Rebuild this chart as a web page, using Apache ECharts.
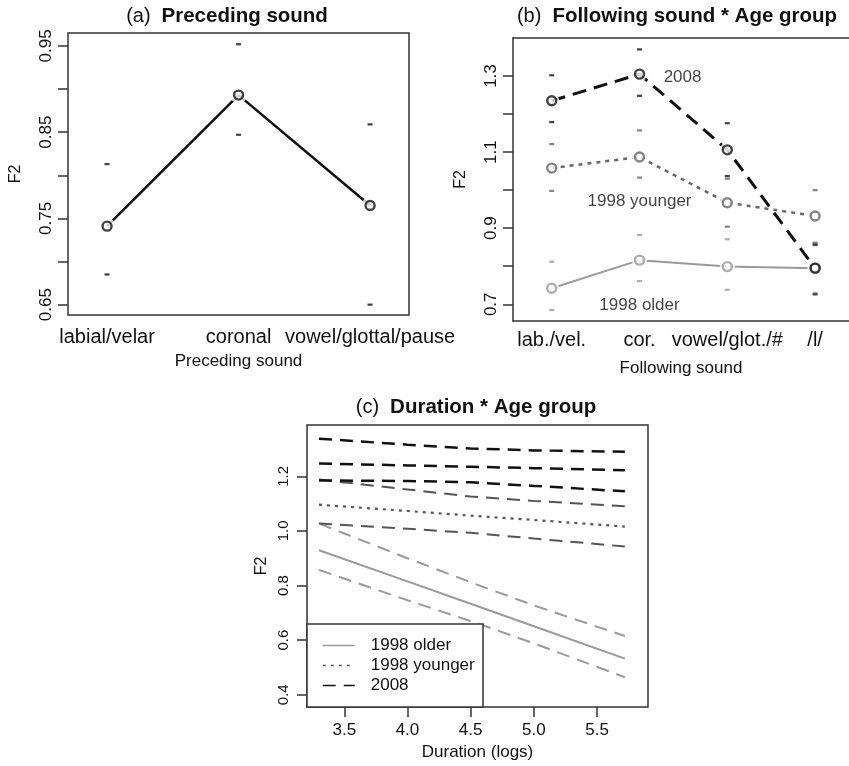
<!DOCTYPE html>
<html>
<head>
<meta charset="utf-8">
<script src="https://cdn.jsdelivr.net/npm/echarts@6/dist/echarts.min.js"></script>
<style>html,body{margin:0;padding:0;background:#fff}#c{width:849px;height:766px}</style>
</head>
<body>
<div id="c"></div>
<script>
// ---------- Panel (a): Preceding sound ----------
const precedingCats = ['labial/velar', 'coronal', 'vowel/glottal/pause'];
const precedingFit = [0.741, 0.893, 0.765];
const precedingUpper = [0.813, 0.952, 0.859];
const precedingLower = [0.685, 0.847, 0.650];
const aTicks = [0.65, 0.70, 0.75, 0.80, 0.85, 0.90, 0.95];
const aLabels = [0.65, 0.75, 0.85, 0.95];

// ---------- Panel (b): Following sound * Age group ----------
const followingCats = ['lab./vel.', 'cor.', 'vowel/glot./#', '/l/'];
const b2008 = [1.235, 1.305, 1.106, 0.795];
const b2008Upper = [1.302, 1.370, 1.176, 0.857];
const b2008Lower = [1.179, 1.248, 1.037, 0.726];
const bYounger = [1.058, 1.087, 0.967, 0.932];
const bYoungerUpper = [1.121, 1.157, 1.030, 1.000];
const bYoungerLower = [0.998, 1.033, 0.904, 0.862];
const bOlder = [0.742, 0.816, 0.799, 0.795];
const bOlderUpper = [0.812, 0.882, 0.871, 0.855];
const bOlderLower = [0.685, 0.761, 0.738, 0.730];
const bTicks = [0.7, 0.8, 0.9, 1.0, 1.1, 1.2, 1.3];
const bLabels = [0.7, 0.9, 1.1, 1.3];
const bAnnotations = [['2008', 2.49, 1.297], ['1998 younger', 2.0, 0.971], ['1998 older', 2.0, 0.696]];

// ---------- Panel (c): Duration * Age group ----------
const duration = [3.3, 4.0, 4.5, 5.0, 5.72];
const cOlder = [0.929, 0.815, 0.733, 0.651, 0.532];
const cOlderUpper = [1.027, 0.900, 0.812, 0.727, 0.615];
const cOlderLower = [0.857, 0.746, 0.670, 0.588, 0.464];
const cYounger = [1.096, 1.073, 1.056, 1.040, 1.016];
const cYoungerUpper = [1.188, 1.152, 1.126, 1.110, 1.090];
const cYoungerLower = [1.027, 1.008, 0.993, 0.972, 0.943];
const c2008 = [1.247, 1.240, 1.235, 1.230, 1.222];
const c2008Upper = [1.338, 1.316, 1.302, 1.295, 1.290];
const c2008Lower = [1.185, 1.183, 1.178, 1.165, 1.145];
const cXTicks = [3.5, 4.0, 4.5, 5.0, 5.5];
const cYTicks = [0.4, 0.6, 0.8, 1.0, 1.2];

const FONT = "'Liberation Sans', Arial, Helvetica, sans-serif";
const INK = '#111';
const BLACK = '#111', DARK = '#555', LIGHT = '#9a9a9a';
const FRAME = {color: '#333', width: 1.5};

const chart = echarts.init(document.getElementById('c'), null, {renderer: 'canvas'});

function catXAxis(grid, min, max, cats, margin, name, gap, showLine) {
  return {
    type: 'value', gridIndex: grid, min: min, max: max,
    axisLine: {show: !!showLine, onZero: false, lineStyle: FRAME}, axisTick: {show: false}, splitLine: {show: false},
    axisLabel: {customValues: cats.map((c, i) => i + 1), formatter: v => cats[Math.round(v) - 1],
      fontSize: 20, color: INK, fontFamily: FONT, margin: margin, hideOverlap: false},
    name: name, nameLocation: 'middle', nameGap: gap,
    nameTextStyle: {fontSize: 17, color: INK, fontFamily: FONT}
  };
}
function numYAxis(grid, min, max, ticks, labels, digits, fs, gap, margin, showLine) {
  return {
    type: 'value', gridIndex: grid, min: min, max: max,
    axisLine: {show: !!showLine, onZero: false, lineStyle: FRAME}, splitLine: {show: false},
    axisTick: {show: true, length: 10, customValues: ticks, lineStyle: FRAME},
    axisLabel: {customValues: labels, rotate: 90, formatter: v => v.toFixed(digits),
      fontSize: fs, color: INK, fontFamily: FONT, margin: margin, hideOverlap: false},
    name: 'F2', nameLocation: 'middle', nameGap: gap,
    nameTextStyle: {fontSize: 16, color: INK, fontFamily: FONT}
  };
}
const pts = arr => arr.map((v, i) => [i + 1, v]);
const ciPts = (up, lo) => pts(up).concat(pts(lo));

function groupSeries(ax, fit, up, lo, color, lineStyle, symSize, halo) {
  return [
    {type: 'line', xAxisIndex: ax, yAxisIndex: ax, data: pts(fit), symbol: 'none',
      lineStyle: Object.assign({color: color}, lineStyle), z: 2, silent: true},
    {type: 'scatter', xAxisIndex: ax, yAxisIndex: ax, data: pts(fit), symbolSize: halo,
      itemStyle: {color: '#fff'}, z: 3, silent: true},
    {type: 'scatter', xAxisIndex: ax, yAxisIndex: ax, data: pts(fit), symbol: 'circle', symbolSize: symSize,
      itemStyle: {color: 'rgba(255,255,255,0)', borderColor: color, borderWidth: 2.4}, z: 5, silent: true},
    {type: 'scatter', xAxisIndex: ax, yAxisIndex: ax, data: ciPts(up, lo), symbol: 'rect', symbolSize: [5, 2.2],
      itemStyle: {color: color}, z: 4, silent: true}
  ];
}
function cLine(name, ys, color, type, width) {
  return {type: 'line', name: name, xAxisIndex: 2, yAxisIndex: 2,
    data: duration.map((x, i) => [x, ys[i]]), symbol: 'none', silent: true,
    lineStyle: {color: color, type: type, width: width}, itemStyle: {color: color}, z: 2};
}
const DASH = [13, 8];

const series = [].concat(
  groupSeries(0, precedingFit, precedingUpper, precedingLower, BLACK, {width: 2.5}, 9, 17),
  groupSeries(1, bOlder, bOlderUpper, bOlderLower, LIGHT, {width: 2}, 9, 15),
  groupSeries(1, bYounger, bYoungerUpper, bYoungerLower, '#666', {width: 2.5, type: [4, 5]}, 9, 15),
  groupSeries(1, b2008, b2008Upper, b2008Lower, BLACK, {width: 3, type: [14, 8]}, 9, 15),
  [{type: 'scatter', xAxisIndex: 1, yAxisIndex: 1, symbolSize: 1, itemStyle: {color: 'rgba(0,0,0,0)'},
    data: bAnnotations.map(a => ({name: a[0], value: [a[1], a[2]]})), silent: true, z: 6,
    label: {show: true, position: 'inside', formatter: '{b}', fontSize: 17, color: INK, fontFamily: FONT}}],
  [
    cLine('1998 older', cOlder, LIGHT, 'solid', 2),
    cLine('older upper', cOlderUpper, LIGHT, DASH, 2),
    cLine('older lower', cOlderLower, LIGHT, DASH, 2),
    cLine('1998 younger', cYounger, DARK, [3, 5], 2.2),
    cLine('younger upper', cYoungerUpper, DARK, DASH, 2),
    cLine('younger lower', cYoungerLower, DARK, DASH, 2),
    cLine('2008', c2008, BLACK, DASH, 2.5),
    cLine('2008 upper', c2008Upper, BLACK, DASH, 2.5),
    cLine('2008 lower', c2008Lower, BLACK, DASH, 2.5)
  ]
);

function titleText(x, y, tag, bold) {
  return {type: 'text', x: x, y: y, z: 100, silent: true,
    style: {text: '{n|' + tag + '}{b|' + bold + '}', align: 'center', verticalAlign: 'middle',
      rich: {n: {fontSize: 20, fontFamily: FONT, fill: INK, padding: [0, 11, 0, 0]},
             b: {fontSize: 20.5, fontWeight: 'bold', fontFamily: FONT, fill: INK}}}};
}

chart.setOption({
  animation: false,
  backgroundColor: '#fff',
  grid: [
    {left: 68, top: 33, width: 341, height: 282, show: true, borderColor: '#333', borderWidth: 1.5, backgroundColor: 'transparent'},
    {left: 513, top: 38, right: 0, height: 283, show: false},
    {left: 307, top: 425, width: 341, height: 282, show: true, borderColor: '#333', borderWidth: 1.5, backgroundColor: 'transparent'}
  ],
  xAxis: [
    catXAxis(0, 0.703, 3.296, precedingCats, 12, 'Preceding sound', 38, false),
    catXAxis(1, 0.559, 4.386, followingCats, 9, 'Following sound', 39, true),
    {type: 'value', gridIndex: 2, min: 3.205, max: 5.903,
      axisLine: {show: false}, splitLine: {show: false},
      axisTick: {show: true, length: 10, customValues: cXTicks, lineStyle: FRAME},
      axisLabel: {customValues: cXTicks, formatter: v => v.toFixed(1), fontSize: 17, color: INK, fontFamily: FONT, margin: 15, hideOverlap: false},
      name: 'Duration (logs)', nameLocation: 'middle', nameGap: 37,
      nameTextStyle: {fontSize: 17, color: INK, fontFamily: FONT}},
    {type: 'value', gridIndex: 1, position: 'top', min: 0.559, max: 4.386,
      axisLine: {show: true, onZero: false, lineStyle: FRAME}, axisTick: {show: false},
      axisLabel: {show: false}, splitLine: {show: false}}
  ],
  yAxis: [
    numYAxis(0, 0.638, 0.965, aTicks, aLabels, 2, 17, 44, 13, false),
    numYAxis(1, 0.656, 1.400, bTicks, bLabels, 1, 17, 44, 13, true),
    numYAxis(2, 0.355, 1.388, cYTicks, cYTicks, 1, 15, 37, 16, false)
  ],
  legend: {
    data: ['1998 older', '1998 younger', '2008'], orient: 'vertical', left: 322, top: 637,
    itemWidth: 32, itemHeight: 18, itemGap: 3, padding: 0, selectedMode: false, z: 60,
    lineStyle: {width: 1.5}, itemStyle: {opacity: 0},
    textStyle: {fontSize: 17, color: INK, fontFamily: FONT, padding: [0, 0, 0, 11]}
  },
  graphic: [
    {type: 'rect', z: 50, silent: true, shape: {x: 307, y: 624, width: 176, height: 83},
      style: {fill: '#fff', stroke: '#333', lineWidth: 1.5}},
    titleText(227, 16, '(a)', 'Preceding sound'),
    titleText(677, 16, '(b)', 'Following sound * Age group'),
    titleText(476, 407, '(c)', 'Duration * Age group')
  ],
  series: series
});
</script>
</body>
</html>
